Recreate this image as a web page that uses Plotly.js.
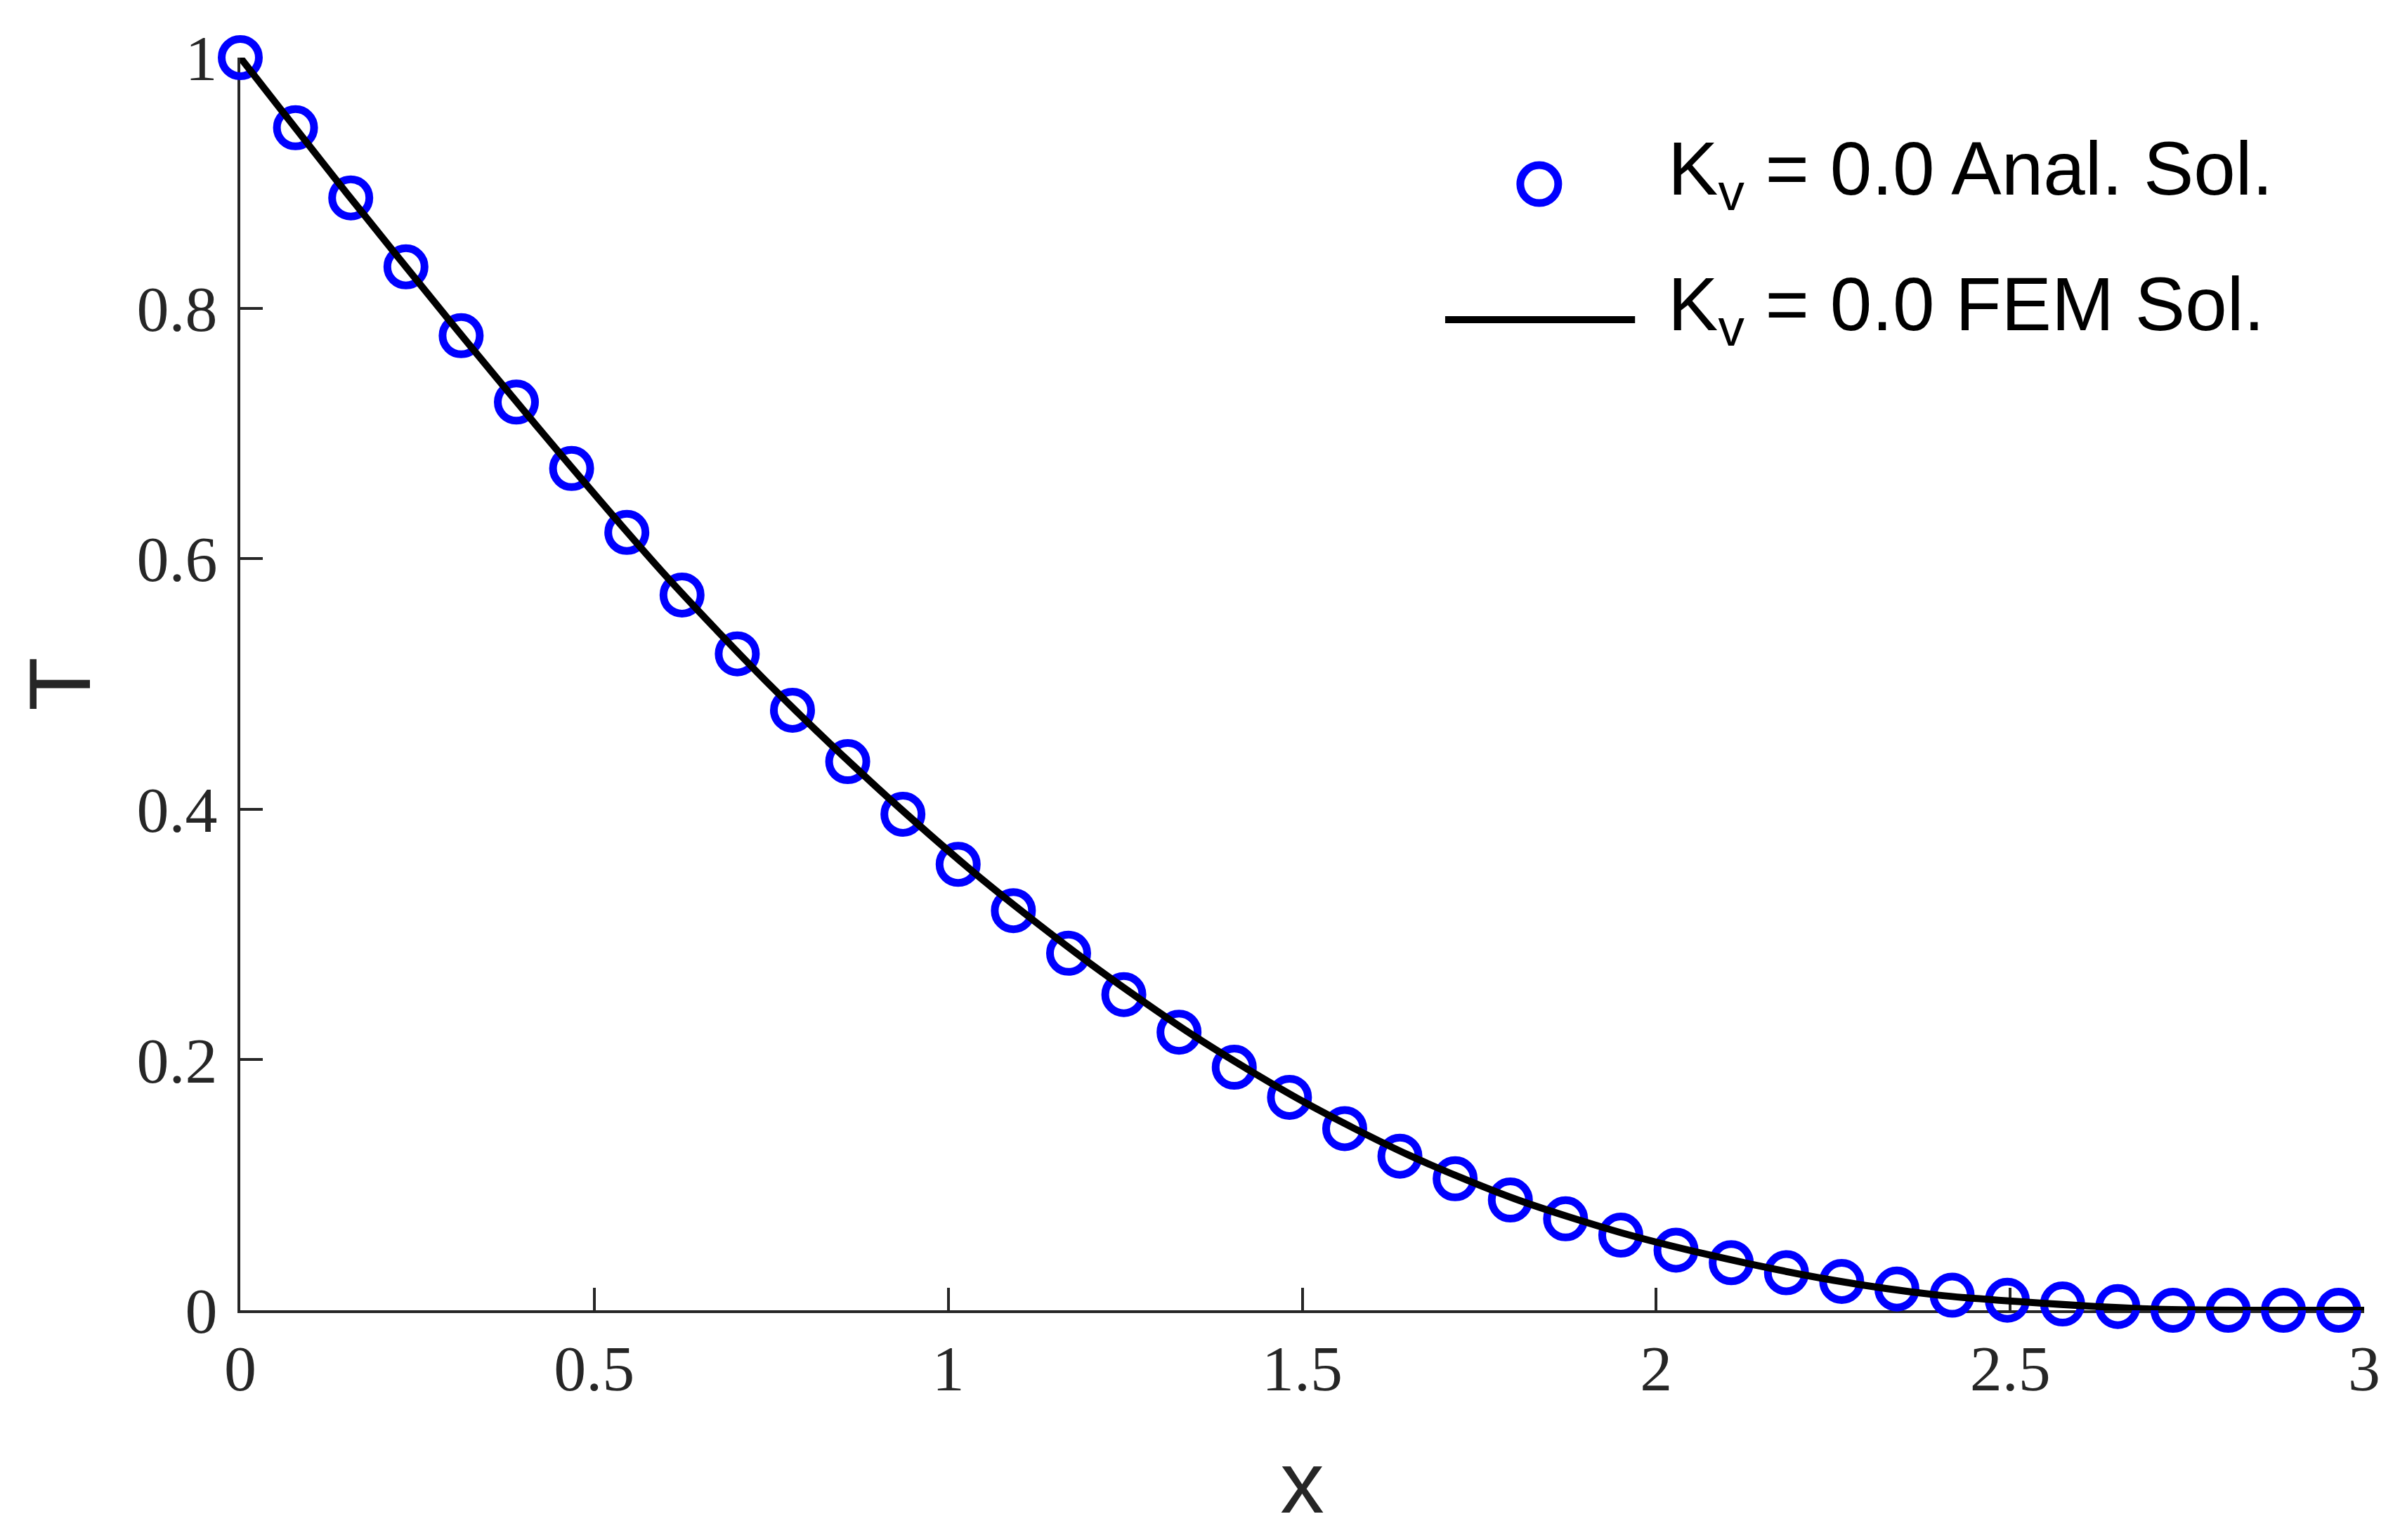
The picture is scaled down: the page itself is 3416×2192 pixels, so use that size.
<!DOCTYPE html>
<html>
<head>
<meta charset="utf-8">
<script src="https://cdn.plot.ly/plotly-3.0.1.min.js"></script>
<style>
  html, body { margin: 0; padding: 0; background: #fff; }
  #chart { width: 3416px; height: 2192px; }
</style>
</head>
<body>
<div id="chart"></div>
<script>
const xAnal = [0, 0.078, 0.156, 0.234, 0.312, 0.39, 0.468, 0.546, 0.624, 0.702,
  0.78, 0.858, 0.936, 1.014, 1.092, 1.17, 1.248, 1.326, 1.404, 1.482,
  1.56, 1.638, 1.716, 1.794, 1.872, 1.95, 2.028, 2.106, 2.184, 2.262,
  2.34, 2.418, 2.496, 2.574, 2.652, 2.73, 2.808, 2.886, 2.964];
const tAnal = [1.000, 0.944, 0.888, 0.833, 0.778, 0.725, 0.672, 0.621, 0.571, 0.524,
  0.479, 0.438, 0.396, 0.356, 0.319, 0.285, 0.252, 0.222, 0.194, 0.170,
  0.145, 0.123, 0.105, 0.088, 0.073, 0.060, 0.048, 0.038, 0.030, 0.023,
  0.017, 0.012, 0.008, 0.005, 0.003, 0, 0, 0, 0];

// FEM solution
const xFem = [0, 0.15, 0.3, 0.45, 0.6, 0.75, 0.9, 1.05, 1.2, 1.35, 1.5,
  1.65, 1.8, 1.95, 2.1, 2.25, 2.4, 2.55, 2.7, 2.85, 3.0];
const tFem = [1.000, 0.892, 0.787, 0.685, 0.587, 0.498, 0.417, 0.343, 0.277, 0.218, 0.167,
  0.124, 0.089, 0.062, 0.041, 0.024, 0.012, 0.0055, 0.001, 0, 0];

const xTicks = [0, 0.5, 1, 1.5, 2, 2.5, 3];
const xTickText = ["0", "0.5", "1", "1.5", "2", "2.5", "3"];
const yTicks = [0, 0.2, 0.4, 0.6, 0.8, 1];
const yTickText = ["0", "0.2", "0.4", "0.6", "0.8", "1"];

const seriesNames = ["K<sub>v</sub> = 0.0 Anal. Sol.", "K<sub>v</sub> = 0.0 FEM Sol."];

const AXIS = "#262626";
const tickFont = { family: "Liberation Serif, Times New Roman, serif", size: 92, color: AXIS };
const sansFont = "Liberation Sans, Arial, Helvetica, sans-serif";

const traces = [
  {
    x: xAnal, y: tAnal, type: "scatter", mode: "markers",
    name: seriesNames[0], cliponaxis: false, showlegend: false,
    marker: { symbol: "circle-open", size: 53, color: "#0000ff", line: { width: 11, color: "#0000ff" } },
  },
  {
    x: xFem, y: tFem, type: "scatter", mode: "lines",
    name: seriesNames[1], cliponaxis: false, showlegend: false,
    line: { color: "#000000", width: 10, shape: "spline", smoothing: 0.8 },
  },
];

function axisBase() {
  return {
    showline: true, linecolor: AXIS, linewidth: 4, mirror: false,
    ticks: "inside", ticklen: 32, tickwidth: 4, tickcolor: AXIS,
    showgrid: false, zeroline: false, tickfont: tickFont,
    layer: "below traces", automargin: true, fixedrange: true,
  };
}

// Legend is drawn by hand so the key sizes match the plotted marks
const legendRows = [0.907, 0.7987];
const layout = {
  width: 3416, height: 2192,
  margin: { l: 342, r: 51, t: 82, b: 327 },
  paper_bgcolor: "#ffffff", plot_bgcolor: "#ffffff",
  showlegend: false,
  xaxis: {
    ...axisBase(), range: [0, 3], tickmode: "array", tickvals: xTicks, ticktext: xTickText,
    ticklabelstandoff: 0,
    title: { text: "x", font: { family: sansFont, size: 125, color: AXIS }, standoff: 68 },
  },
  yaxis: {
    ...axisBase(), range: [0, 1], tickmode: "array", tickvals: yTicks, ticktext: yTickText,
    ticklabelstandoff: 10,
    title: { text: "T", font: { family: sansFont, size: 125, color: AXIS }, standoff: 25 },
  },
  annotations: seriesNames.map((name, i) => ({
    xref: "paper", yref: "paper", x: 0.6716, y: legendRows[i],
    xanchor: "left", yanchor: "middle", showarrow: false,
    text: name, font: { family: sansFont, size: 107, color: "#000000" },
  })),
  shapes: [
    {
      type: "circle", xref: "paper", yref: "paper", xsizemode: "pixel", ysizemode: "pixel",
      xanchor: 0.6116, yanchor: 0.899, x0: -27, x1: 27, y0: -27, y1: 27,
      line: { color: "#0000ff", width: 11 },
    },
    {
      type: "line", xref: "paper", yref: "paper", x0: 0.5673, x1: 0.6567, y0: 0.7908, y1: 0.7908,
      line: { color: "#000000", width: 10 },
    },
  ],
};

Plotly.newPlot("chart", traces, layout, { displayModeBar: false, staticPlot: true });
</script>
</body>
</html>
